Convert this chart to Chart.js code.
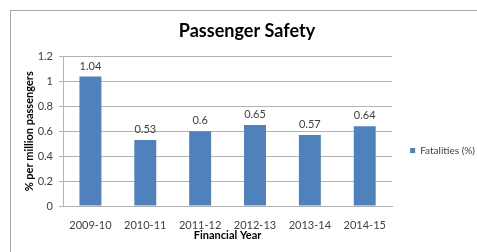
<!DOCTYPE html>
<html>
<head>
<meta charset="utf-8">
<script src="https://cdn.jsdelivr.net/npm/chart.js@4.4.0/dist/chart.umd.min.js"></script>
<style>
    html, body { margin: 0; padding: 0; background: #fff; overflow: hidden; }
    .frame {
        position: absolute; left: 10px; top: 10px;
        width: 480px; height: 260px;
        border-left: 1px solid #a6a6a6; border-top: 1px solid #a6a6a6;
    }
    .frame canvas { position: absolute; left: -2px; top: 0; }
</style>
</head>
<body>
<div class="frame">
    <canvas id="safetyChart" width="476" height="241"></canvas>
</div>
<script>
/* Passenger safety - fatalities per million passengers */

const years = ['2009-10', '2010-11', '2011-12', '2012-13', '2013-14', '2014-15'];
const fatalities = [1.04, 0.53, 0.6, 0.65, 0.57, 0.64];
const yTicks = ['0', '0.2', '0.4', '0.6', '0.8', '1', '1.2'];

const FONT = 'Lato, "Open Sans", sans-serif';

// Value labels above each bar
const valueLabels = {
    id: 'valueLabels',
    afterDatasetsDraw(chart) {
        const ctx = chart.ctx;
        const meta = chart.getDatasetMeta(0);
        ctx.save();
        ctx.font = '11px ' + FONT;
        ctx.fillStyle = '#404040';
        ctx.textAlign = 'center';
        ctx.textBaseline = 'bottom';
        meta.data.forEach((bar, i) => {
            ctx.fillText(String(chart.data.datasets[0].data[i]), bar.x, bar.y - 5);
        });
        ctx.restore();
    }
};

const ctx = document.getElementById('safetyChart');

new Chart(ctx, {
    type: 'bar',
    data: {
        labels: years,
        datasets: [{
            label: 'Fatalities (%)',
            data: fatalities,
            backgroundColor: '#4f81bd',
            borderWidth: 0,
            barPercentage: 0.8,
            categoryPercentage: 0.5
        }]
    },
    options: {
        responsive: false,
        animation: false,
        layout: {
            padding: 0
        },
        plugins: {
            title: {
                display: true,
                text: 'Passenger Safety',
                color: '#000',
                font: { family: FONT, size: 18, weight: 'bold' },
                padding: { top: 9, bottom: 15 }
            },
            legend: {
                position: 'right',
                // empty title only pushes the entry down a little
                title: {
                    display: true,
                    text: ' ',
                    font: { family: FONT, size: 10 },
                    padding: { top: 13, bottom: 13 }
                },
                labels: {
                    color: '#404040',
                    boxWidth: 5,
                    boxHeight: 5,
                    padding: 18,
                    font: { family: FONT, size: 10 }
                }
            },
            tooltip: { enabled: false }
        },
        scales: {
            y: {
                min: 0,
                max: 1.2,
                afterFit: function (scale) { scale.width = 54; },
                ticks: {
                    stepSize: 0.2,
                    color: '#404040',
                    padding: 6,
                    font: { family: FONT, size: 11 },
                    callback: function (value, index) { return yTicks[index]; }
                },
                grid: {
                    color: '#b3b3b3',
                    tickLength: 4,
                    drawTicks: true
                },
                border: { display: true, color: '#b3b3b3' },
                title: {
                    display: true,
                    text: '% per million passengers',
                    color: '#000',
                    font: { family: FONT, size: 11, weight: 'bold' },
                    padding: { top: 14, bottom: 0 }
                }
            },
            x: {
                afterFit: function (scale) { scale.height = 46; },
                ticks: {
                    color: '#404040',
                    padding: 5,
                    font: { family: FONT, size: 11 }
                },
                grid: { display: false },
                border: { display: true, color: '#b3b3b3' },
                title: {
                    display: true,
                    text: 'Financial Year',
                    color: '#000',
                    font: { family: FONT, size: 11, weight: 'bold' },
                    padding: { top: 0, bottom: 10 }
                }
            }
        }
    },
    plugins: [valueLabels]
});
</script>
</body>
</html>
